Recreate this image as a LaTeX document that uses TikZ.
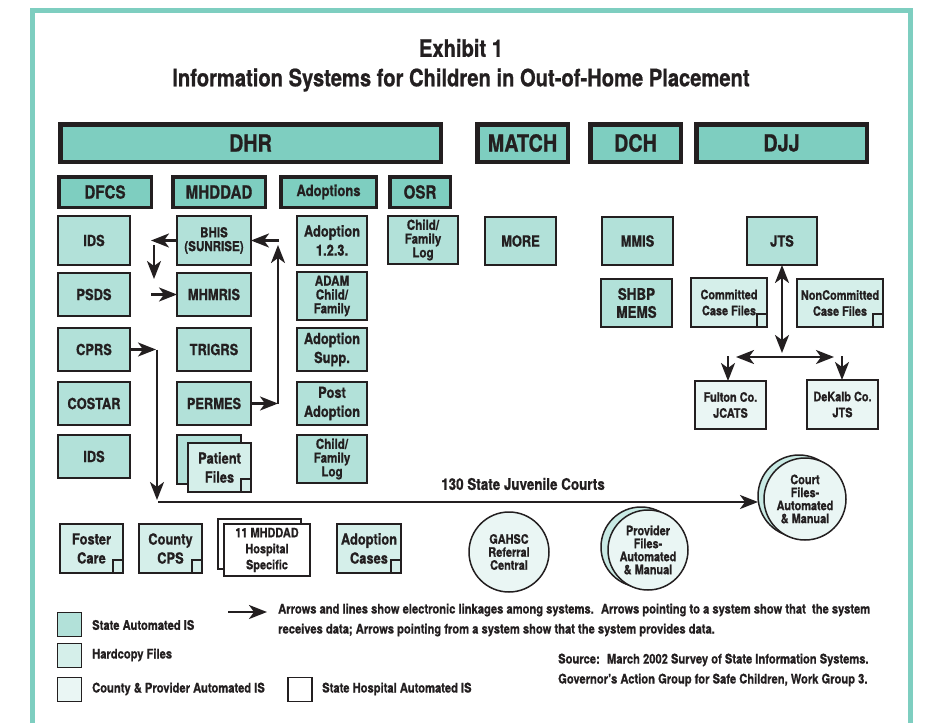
\documentclass[tikz,border=0pt]{standalone}
\usepackage{fontspec}
\setmainfont{TeX Gyre Heros}[FakeStretch=0.84, BoldFeatures={FakeBold=0.8}]
\usetikzlibrary{arrows.meta}
\definecolor{tealhead}{HTML}{7ECEC0}
\definecolor{stateauto}{HTML}{B2E1D9}
\definecolor{hardfill}{HTML}{D5EFEA}
\definecolor{countyfill}{HTML}{EAF6F4}
\definecolor{inkline}{HTML}{231F20}
% small square in the corner of a hardcopy box
\newcommand{\cornermark}[1]{\draw[inkline, line width=1.4pt] ([xshift=-10pt,yshift=13pt]#1.south east) rectangle (#1.south east);}

\begin{document}
\begin{tikzpicture}[x=1pt, y=-1pt, inkline,
  bighead/.style={draw, line width=4.5pt, fill=tealhead, minimum height=37.5pt, inner sep=0pt, outer sep=0pt, font=\fontsize{23.5}{24}\selectfont\bfseries},
  subhead/.style={draw, line width=3.5pt, fill=tealhead, minimum height=30.5pt, inner sep=0pt, outer sep=0pt, font=\fontsize{18}{19}\selectfont\bfseries},
  statesys/.style={draw, line width=2.2pt, fill=stateauto, minimum height=43pt, inner sep=0pt, outer sep=0pt, align=center, font=\fontsize{15.3}{19}\selectfont\bfseries},
  hardcopy/.style={statesys, fill=hardfill},
  countysys/.style={statesys, fill=countyfill},
  hospsys/.style={statesys, fill=white},
  smalltxt/.style={font=\fontsize{13.8}{13.8}\selectfont\bfseries},
  midtxt/.style={font=\fontsize{13}{16}\selectfont\bfseries},
  disc/.style={circle, draw, line width=1.5pt, fill=countyfill, minimum size=80pt, inner sep=0pt, outer sep=0pt, align=center, font=\fontsize{13}{13}\selectfont\bfseries},
  conn/.style={line width=2.5pt, -{Stealth[length=18pt,width=14pt,inset=5pt]}},
  dconn/.style={line width=2.5pt, {Stealth[length=18pt,width=14pt,inset=5pt]}-{Stealth[length=18pt,width=14pt,inset=5pt]}},
  legtxt/.style={anchor=west, inner sep=0pt, font=\fontsize{13.3}{14}\selectfont\bfseries}]
\useasboundingbox (0,0) rectangle (926,723);
\draw[tealhead, line width=5pt] (32.5,723) -- (32.5,10.5) -- (910.5,10.5) -- (910.5,723);

% title
\node[font=\fontsize{24}{24}\selectfont\bfseries] (exhibit) at (461,48) {Exhibit 1};
\node[font=\fontsize{24}{24}\selectfont\bfseries] (title) at (461,80) {Information Systems for Children in Out-of-Home Placement};

% departments
\node[bighead, minimum width=380.5pt] (dhr) at (250.5,143) {DHR};
\node[bighead, minimum width=90.5pt] (match) at (522.5,143) {MATCH};
\node[bighead, minimum width=90.5pt] (dch) at (635.5,143) {DCH};
\node[bighead, minimum width=170.5pt] (djj) at (781.5,143) {DJJ};

\node[subhead, minimum width=92.5pt] (dfcs) at (105,192) {DFCS};
\node[subhead, minimum width=92.5pt] (mhddad) at (219,192) {MHDDAD};
\node[subhead, minimum width=95.5pt, font=\fontsize{15.5}{16}\selectfont\bfseries] (adoptions) at (328.5,192) {Adoptions};
\node[subhead, minimum width=60.5pt] (osr) at (420,192) {OSR};

% DFCS systems
\node[statesys, minimum width=72pt, minimum height=49pt] (ids) at (94,240.5) {IDS};
\node[statesys, minimum width=72pt] (psds) at (94,294.5) {PSDS};
\node[statesys, minimum width=72pt] (cprs) at (94,349.5) {CPRS};
\node[statesys, minimum width=72pt] (costar) at (94,403.5) {COSTAR};
\node[statesys, minimum width=72pt] (ids2) at (94,456.5) {IDS};

% MHDDAD systems
\node[statesys, smalltxt, minimum width=74pt, minimum height=49pt] (bhis) at (214,240.5) {BHIS\\(SUNRISE)};
\node[statesys, minimum width=74pt] (mhmris) at (214,294.5) {MHMRIS};
\node[statesys, minimum width=74pt] (trigrs) at (214,349.5) {TRIGRS};
\node[statesys, minimum width=74pt] (permes) at (214,403.5) {PERMES};
\node[statesys, minimum width=64pt, minimum height=49pt] (patback) at (209,459.5) {};
\node[hardcopy, minimum width=63pt, minimum height=49pt] (patient) at (219.5,467.5) {Patient\\Files};
\cornermark{patient}

% Adoptions systems
\node[statesys, minimum width=70pt, minimum height=49pt] (adopt123) at (332,240.5) {Adoption\\1.2.3.};
\node[statesys, smalltxt, minimum width=70pt, minimum height=48pt] (adam) at (332,296) {ADAM\\Child/\\Family};
\node[statesys, minimum width=70pt] (adoptsupp) at (332,349.5) {Adoption\\Supp.};
\node[statesys, minimum width=70pt] (postadopt) at (332,403.5) {Post\\Adoption};
\node[statesys, smalltxt, minimum width=70pt, minimum height=48pt] (adoptlog) at (332,459) {Child/\\Family\\Log};

% OSR, MATCH, DCH
\node[statesys, smalltxt, minimum width=70pt, minimum height=48pt] (osrlog) at (423,240) {Child/\\Family\\Log};
\node[statesys, minimum width=71pt, minimum height=48pt] (more) at (520.5,241) {MORE};
\node[statesys, minimum width=71pt, minimum height=48pt] (mmis) at (637.5,241) {MMIS};
\node[statesys, minimum width=71pt, minimum height=48pt, font=\fontsize{16}{18}\selectfont\bfseries] (shbp) at (636.5,303) {SHBP\\MEMS};

% DJJ
\node[statesys, minimum width=70pt, minimum height=48pt] (jts) at (782,241) {JTS};
\node[hardcopy, midtxt, minimum width=76pt, minimum height=49pt] (committed) at (729,302.5) {Committed\\Case Files};
\cornermark{committed}
\node[hardcopy, midtxt, minimum width=86pt, minimum height=48pt] (noncommitted) at (840,303) {NonCommitted\\Case Files};
\cornermark{noncommitted}
\node[countysys, midtxt, minimum width=71pt, minimum height=48pt] (fulton) at (730.5,405) {Fulton Co.\\JCATS};
\node[countysys, midtxt, minimum width=71pt, minimum height=49pt] (dekalb) at (842.5,404.5) {DeKalb Co.\\JTS};

\coordinate (j1) at (782,353);
\draw[dconn] (jts.south) -- (j1);
\coordinate (h1) at (736,357);
\coordinate (h2) at (834,357);
\draw[dconn] (h1) -- (h2);
\coordinate (d1) at (728,356);
\draw[conn] (d1) -- (d1 |- fulton.north);
\coordinate (d2) at (842,356);
\draw[conn] (d2) -- (d2 |- dekalb.north);

% MHDDAD links
\coordinate (b1) at (151,240.5);
\draw[conn] (bhis.west) -- (b1);
\coordinate (b2) at (154,245);
\coordinate (b3) at (154,279);
\draw[conn] (b2) -- (b3);
\coordinate (b4) at (151,294.5);
\draw[conn] (b4) -- (mhmris.west);
\coordinate (p1) at (278,403.5);
\draw[conn] (permes.east) -- (p1);
\coordinate (p2) at (278,245);
\draw[conn] (p1) -- (p2);
\coordinate (p3) at (279,240.5);
\draw[conn] (p3) -- (bhis.east);

% bottom row
\node[hardcopy, minimum width=63pt, minimum height=49pt] (foster) at (91.5,548.5) {Foster\\Care};
\cornermark{foster}
\node[hardcopy, minimum width=63pt, minimum height=49pt] (countycps) at (170.5,548.5) {County\\CPS};
\cornermark{countycps}
\node[hospsys, minimum width=83pt, minimum height=50pt] (hospback) at (259.5,544) {};
\node[hospsys, midtxt, minimum width=86pt, minimum height=52pt] (hosp) at (267,550) {11 MHDDAD\\Hospital\\Specific};
\node[hardcopy, minimum width=64pt, minimum height=49pt] (adoptcases) at (369,548.5) {Adoption\\Cases};
\cornermark{adoptcases}

\node[disc] (gahsc) at (509,552) {GAHSC\\Referral\\Central};
\node[disc, fill=stateauto!70] (provback) at (641,547) {};
\node[disc] (provider) at (648,550) {Provider\\Files-\\Automated\\\& Manual};
\node[disc, minimum size=82pt, fill=stateauto!70] (courtback) at (799,496) {};
\node[disc, minimum size=82pt] (court) at (805,499) {Court\\Files-\\Automated\\\& Manual};

% courts line
\node[font=\fontsize{16}{16}\selectfont\bfseries] (courtslabel) at (523,484) {130 State Juvenile Courts};
\coordinate (c1) at (156,349.5);
\draw[conn] (cprs.east) -- (c1);
\coordinate (c2) at (157,500);
\draw[conn] (c1 -| c2) -- (c2);
\coordinate (c3) at (158,502);
\draw[conn] (c3) -- (c3 -| courtback.west);

% legend
\node[statesys, line width=1.5pt, minimum width=24pt, minimum height=24pt] (legstate) at (69.5,624.5) {};
\node[legtxt] (legstatetxt) at (92,625) {State Automated IS};
\node[hardcopy, line width=1.5pt, minimum width=24pt, minimum height=24pt] (leghard) at (69.5,655.5) {};
\node[legtxt] (leghardtxt) at (92,655) {Hardcopy Files};
\node[countysys, line width=1.5pt, minimum width=24pt, minimum height=24pt] (legcounty) at (69.5,689.5) {};
\node[legtxt] (legcountytxt) at (92,689) {County \& Provider Automated IS};
\node[hospsys, line width=1.5pt, minimum width=24pt, minimum height=24pt] (leghosp) at (300,689.5) {};
\node[legtxt] (leghosptxt) at (322,689) {State Hospital Automated IS};

\coordinate (la1) at (228,612);
\coordinate (la2) at (267,612);
\draw[conn] (la1) -- (la2);
\node[legtxt] (legarr1) at (278,610) {Arrows and lines show electronic linkages among systems.~ Arrows pointing to a system show that~ the system};
\node[legtxt] (legarr2) at (278,630) {receives data; Arrows pointing from a system show that the system provides data.};

\node[legtxt] (src1) at (558,660) {Source:~ March 2002 Survey of State Information Systems.};
\node[legtxt] (src2) at (558,680) {Governor’s Action Group for Safe Children, Work Group 3.};
\end{tikzpicture}
\end{document}
